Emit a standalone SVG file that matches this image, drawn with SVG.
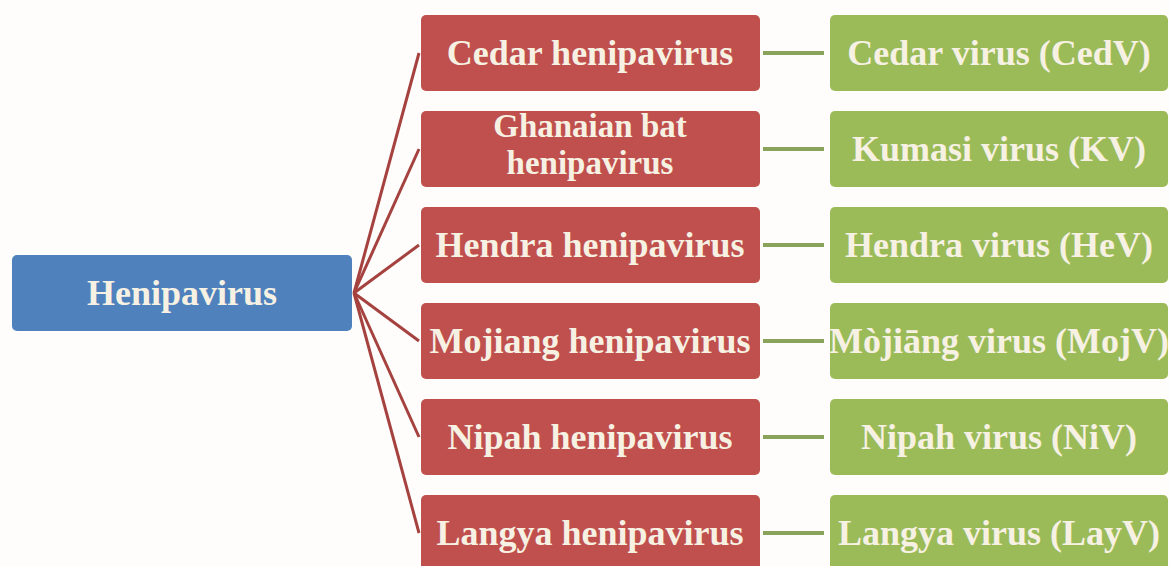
<svg xmlns="http://www.w3.org/2000/svg" width="1169" height="566" viewBox="0 0 1169 566">
<style>
.t{font-family:"Liberation Serif","Times New Roman",serif;font-weight:bold;font-size:36px;fill:#f6f1e3;text-anchor:middle}
.s{font-size:33px}
.blue{fill:#4f81bd}
.red{fill:#c0504d}
.green{fill:#9bbb59}
.rc{stroke:#a5423f;stroke-width:3;fill:none}
.gc{stroke:#8aa35a;stroke-width:4;fill:none}
</style>
<rect width="1169" height="566" fill="#fffdfb"/>
<g id="connectors">
<line class="rc" x1="354" y1="293" x2="419" y2="53"/>
<line class="rc" x1="354" y1="293" x2="419" y2="149"/>
<line class="rc" x1="354" y1="293" x2="419" y2="245"/>
<line class="rc" x1="354" y1="293" x2="419" y2="341"/>
<line class="rc" x1="354" y1="293" x2="419" y2="437"/>
<line class="rc" x1="354" y1="293" x2="419" y2="533"/>
<line class="gc" x1="763" y1="53" x2="824" y2="53"/>
<line class="gc" x1="763" y1="149" x2="824" y2="149"/>
<line class="gc" x1="763" y1="245" x2="824" y2="245"/>
<line class="gc" x1="763" y1="341" x2="824" y2="341"/>
<line class="gc" x1="763" y1="437" x2="824" y2="437"/>
<line class="gc" x1="763" y1="533" x2="824" y2="533"/>
</g>
<g id="henipavirus"><rect class="blue" x="12" y="255" width="340" height="76" rx="5"/><text class="t" x="182" y="305">Henipavirus</text></g>
<g id="cedar-h"><rect class="red" x="421" y="15" width="339" height="76" rx="5"/><text class="t" x="590" y="65">Cedar henipavirus</text></g>
<g id="ghanaian-h"><rect class="red" x="421" y="111" width="339" height="76" rx="5"/><text class="t s" x="590" y="137">Ghanaian bat</text><text class="t s" x="590" y="174">henipavirus</text></g>
<g id="hendra-h"><rect class="red" x="421" y="207" width="339" height="76" rx="5"/><text class="t" x="590" y="257">Hendra henipavirus</text></g>
<g id="mojiang-h"><rect class="red" x="421" y="303" width="339" height="76" rx="5"/><text class="t" x="590" y="353">Mojiang henipavirus</text></g>
<g id="nipah-h"><rect class="red" x="421" y="399" width="339" height="76" rx="5"/><text class="t" x="590" y="449">Nipah henipavirus</text></g>
<g id="langya-h"><rect class="red" x="421" y="495" width="339" height="76" rx="5"/><text class="t" x="590" y="545">Langya henipavirus</text></g>
<g id="cedv"><rect class="green" x="830" y="15" width="338" height="76" rx="5"/><text class="t" x="999" y="65">Cedar virus (CedV)</text></g>
<g id="kv"><rect class="green" x="830" y="111" width="338" height="76" rx="5"/><text class="t" x="999" y="161">Kumasi virus (KV)</text></g>
<g id="hev"><rect class="green" x="830" y="207" width="338" height="76" rx="5"/><text class="t" x="999" y="257">Hendra virus (HeV)</text></g>
<g id="mojv"><rect class="green" x="830" y="303" width="338" height="76" rx="5"/><text class="t" x="999" y="353">Mòjiāng virus (MojV)</text></g>
<g id="niv"><rect class="green" x="830" y="399" width="338" height="76" rx="5"/><text class="t" x="999" y="449">Nipah virus (NiV)</text></g>
<g id="layv"><rect class="green" x="830" y="495" width="338" height="76" rx="5"/><text class="t" x="999" y="545">Langya virus (LayV)</text></g>
</svg>
